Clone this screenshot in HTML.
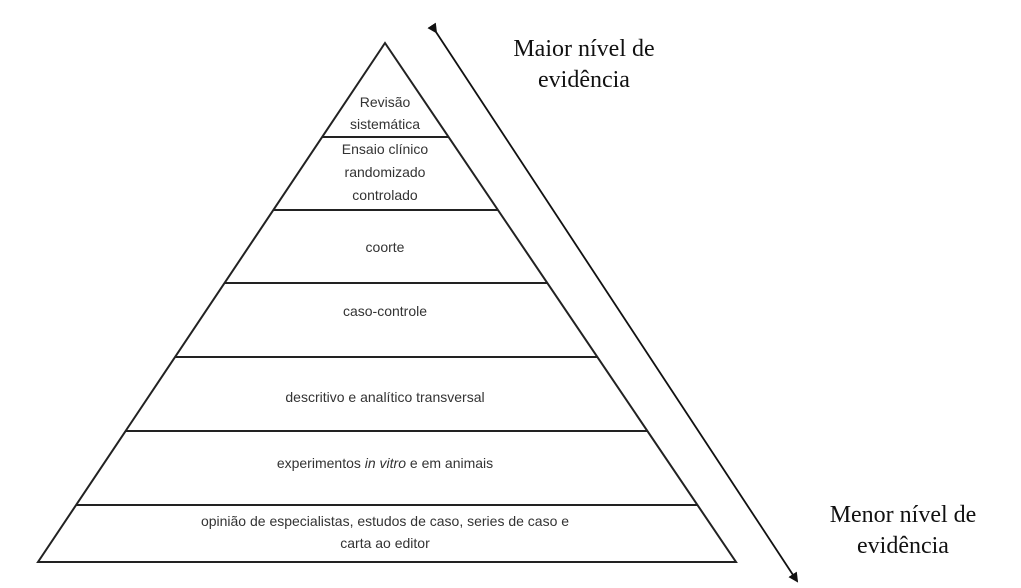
<!DOCTYPE html>
<html><head><meta charset="utf-8"><style>
body{margin:0;background:#fff;}
svg{display:block}
.s{font-family:"Liberation Sans",sans-serif;font-size:14px;fill:#333;text-anchor:middle}
.r{font-family:"Liberation Serif",serif;font-size:24px;fill:#111;text-anchor:middle}
</style></head><body>
<svg width="1021" height="588" viewBox="0 0 1021 588">
<defs><marker id="a" markerWidth="10" markerHeight="10" refX="8" refY="5" orient="auto" markerUnits="userSpaceOnUse"><path d="M0,0 L10,5 L0,10 z" fill="#111"/></marker></defs>
<polygon points="385,43 38,562 736,562" fill="#fff" stroke="#222" stroke-width="2"/>
<g stroke="#222" stroke-width="2">
<line x1="322" y1="137" x2="449" y2="137"/>
<line x1="273" y1="210" x2="498" y2="210"/>
<line x1="224" y1="283" x2="547" y2="283"/>
<line x1="175" y1="357" x2="597" y2="357"/>
<line x1="125" y1="431" x2="647" y2="431"/>
<line x1="76" y1="505" x2="697" y2="505"/>
</g>
<line x1="436" y1="32" x2="797" y2="581" stroke="#111" stroke-width="1.8" marker-start="url(#a)" marker-end="url(#a)"/>
<text class="s" x="385" y="107">Revisão</text>
<text class="s" x="385" y="129">sistemática</text>
<text class="s" x="385" y="154">Ensaio clínico</text>
<text class="s" x="385" y="177">randomizado</text>
<text class="s" x="385" y="200">controlado</text>
<text class="s" x="385" y="252">coorte</text>
<text class="s" x="385" y="316">caso-controle</text>
<text class="s" x="385" y="402">descritivo e analítico transversal</text>
<text class="s" x="385" y="468">experimentos <tspan font-style="italic">in vitro</tspan> e em animais</text>
<text class="s" x="385" y="526">opinião de especialistas, estudos de caso, series de caso e</text>
<text class="s" x="385" y="548">carta ao editor</text>
<text class="r" x="584" y="56">Maior nível de</text>
<text class="r" x="584" y="87">evidência</text>
<text class="r" x="903" y="522">Menor nível de</text>
<text class="r" x="903" y="553">evidência</text>
</svg>
</body></html>
